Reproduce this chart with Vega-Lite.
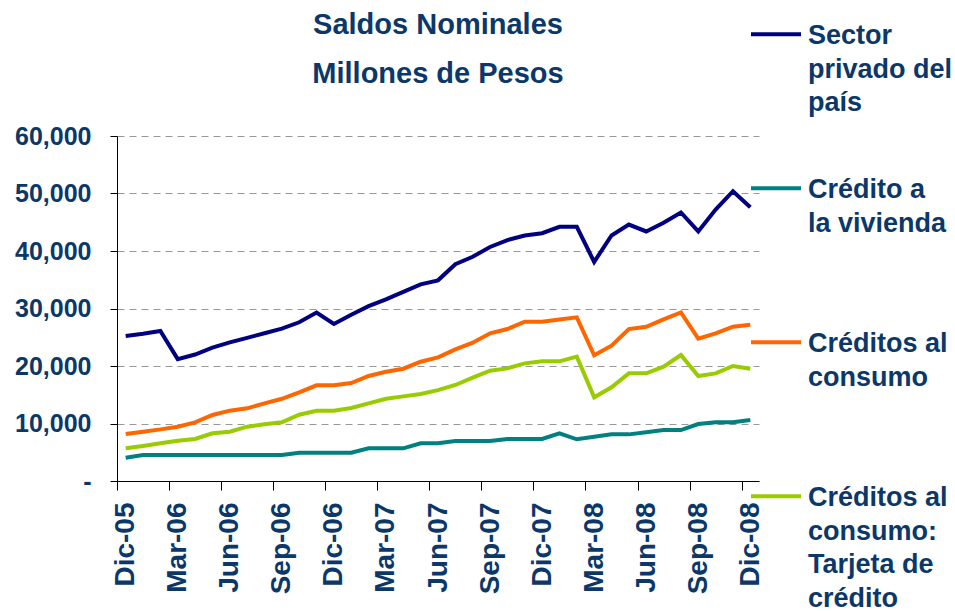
{
  "$schema": "https://vega.github.io/schema/vega-lite/v6.json",
  "width": 642,
  "height": 345,
  "autosize": "none",
  "padding": {"left": 117, "top": 136, "right": 196, "bottom": 130},
  "background": "white",
  "title": {
    "text": ["Saldos Nominales", "Millones de Pesos"],
    "font": "Liberation Sans",
    "fontSize": 29,
    "fontWeight": "bold",
    "color": "#0B3868",
    "lineHeight": 49,
    "anchor": "middle",
    "frame": "group",
    "offset": -93
  },
  "config": {
    "view": {"stroke": null},
    "font": "Liberation Sans",
    "style": {"guide-label": {"lineHeight": 33.5}}
  },
  "datasets": {
    "wide": [
      {"mes": "Dic-05", "sp": 25200, "viv": 4060, "con": 8170, "tc": 5680},
      {"mes": "Ene-06", "sp": 25600, "viv": 4520, "con": 8580, "tc": 6090},
      {"mes": "Feb-06", "sp": 26100, "viv": 4520, "con": 8980, "tc": 6550},
      {"mes": "Mar-06", "sp": 21200, "viv": 4520, "con": 9450, "tc": 7010},
      {"mes": "Abr-06", "sp": 22000, "viv": 4520, "con": 10200, "tc": 7300},
      {"mes": "May-06", "sp": 23200, "viv": 4520, "con": 11480, "tc": 8290},
      {"mes": "Jun-06", "sp": 24100, "viv": 4520, "con": 12230, "tc": 8580},
      {"mes": "Jul-06", "sp": 24900, "viv": 4520, "con": 12640, "tc": 9450},
      {"mes": "Ago-06", "sp": 25700, "viv": 4520, "con": 13500, "tc": 9860},
      {"mes": "Sep-06", "sp": 26500, "viv": 4520, "con": 14300, "tc": 10200},
      {"mes": "Oct-06", "sp": 27600, "viv": 4930, "con": 15400, "tc": 11530},
      {"mes": "Nov-06", "sp": 29300, "viv": 4930, "con": 16640, "tc": 12230},
      {"mes": "Dic-06", "sp": 27300, "viv": 4930, "con": 16640, "tc": 12230},
      {"mes": "Ene-07", "sp": 28900, "viv": 4930, "con": 17040, "tc": 12700},
      {"mes": "Feb-07", "sp": 30400, "viv": 5680, "con": 18260, "tc": 13500},
      {"mes": "Mar-07", "sp": 31600, "viv": 5680, "con": 19000, "tc": 14300},
      {"mes": "Abr-07", "sp": 32900, "viv": 5680, "con": 19530, "tc": 14720},
      {"mes": "May-07", "sp": 34200, "viv": 6550, "con": 20750, "tc": 15130},
      {"mes": "Jun-07", "sp": 34900, "viv": 6550, "con": 21500, "tc": 15800},
      {"mes": "Jul-07", "sp": 37700, "viv": 6960, "con": 22900, "tc": 16700},
      {"mes": "Ago-07", "sp": 39000, "viv": 6960, "con": 24050, "tc": 17970},
      {"mes": "Sep-07", "sp": 40700, "viv": 6960, "con": 25680, "tc": 19190},
      {"mes": "Oct-07", "sp": 41900, "viv": 7300, "con": 26430, "tc": 19590},
      {"mes": "Nov-07", "sp": 42700, "viv": 7300, "con": 27700, "tc": 20460},
      {"mes": "Dic-07", "sp": 43100, "viv": 7300, "con": 27700, "tc": 20810},
      {"mes": "Ene-08", "sp": 44200, "viv": 8290, "con": 28100, "tc": 20810},
      {"mes": "Feb-08", "sp": 44200, "viv": 7250, "con": 28470, "tc": 21620},
      {"mes": "Mar-08", "sp": 38100, "viv": 7710, "con": 21860, "tc": 14550},
      {"mes": "Abr-08", "sp": 42700, "viv": 8110, "con": 23530, "tc": 16290},
      {"mes": "May-08", "sp": 44600, "viv": 8110, "con": 26430, "tc": 18720},
      {"mes": "Jun-08", "sp": 43400, "viv": 8460, "con": 26830, "tc": 18720},
      {"mes": "Jul-08", "sp": 44900, "viv": 8860, "con": 28100, "tc": 19880},
      {"mes": "Ago-08", "sp": 46700, "viv": 8860, "con": 29330, "tc": 21910},
      {"mes": "Sep-08", "sp": 43400, "viv": 9910, "con": 24750, "tc": 18260},
      {"mes": "Oct-08", "sp": 47200, "viv": 10200, "con": 25680, "tc": 18720},
      {"mes": "Nov-08", "sp": 50400, "viv": 10200, "con": 26830, "tc": 20000},
      {"mes": "Dic-08", "sp": 47600, "viv": 10600, "con": 27180, "tc": 19530}
    ]
  },
  "data": {"name": "wide"},
  "transform": [
    {"fold": ["sp", "viv", "con", "tc"], "as": ["serie", "valor"]}
  ],
  "mark": {"type": "line", "strokeWidth": 4, "strokeJoin": "miter", "strokeCap": "butt"},
  "encoding": {
    "x": {
      "field": "mes",
      "type": "ordinal",
      "sort": null,
      "scale": {"type": "point", "padding": 0.5},
      "axis": {
        "title": null,
        "values": ["Dic-05", "Mar-06", "Jun-06", "Sep-06", "Dic-06", "Mar-07", "Jun-07", "Sep-07", "Dic-07", "Mar-08", "Jun-08", "Sep-08", "Dic-08"],
        "tickOffset": -8.68,
        "labelOffset": 8.68,
        "labelAngle": -90,
        "labelFont": "Liberation Sans",
        "labelFontSize": 28,
        "labelFontWeight": "bold",
        "labelColor": "#0B3868",
        "labelPadding": 12,
        "tickSize": 9,
        "tickColor": "#000000",
        "domainColor": "#000000",
        "domainWidth": 1,
        "grid": false
      }
    },
    "y": {
      "field": "valor",
      "type": "quantitative",
      "scale": {"domain": [0, 60000], "nice": false},
      "axis": {
        "title": null,
        "values": [0, 10000, 20000, 30000, 40000, 50000, 60000],
        "labelExpr": "datum.value == 0 ? '-\u00a0\u00a0\u00a0\u00a0' : format(datum.value, ',')",
        "labelFont": "Liberation Sans",
        "labelFontSize": 25,
        "labelFontWeight": "bold",
        "labelColor": "#0B3868",
        "labelPadding": 19,
        "tickSize": 7,
        "tickColor": "#000000",
        "domainColor": "#000000",
        "grid": true,
        "gridColor": "#999999",
        "gridDash": [7, 5],
        "gridWidth": 1
      }
    },
    "color": {
      "field": "serie",
      "type": "nominal",
      "scale": {
        "domain": ["sp", "viv", "con", "tc"],
        "range": ["#000080", "#008080", "#FF6600", "#99CC00"]
      },
      "legend": {
        "title": null,
        "orient": "none",
        "legendX": 632,
        "legendY": -140,
        "direction": "vertical",
        "columns": 1,
        "gridAlign": "all",
        "rowPadding": 0,
        "labelExpr": "datum.label == 'sp' ? ['Sector', 'privado del', 'país'] : datum.label == 'viv' ? ['Crédito a', 'la vivienda'] : datum.label == 'con' ? ['Créditos al', 'consumo'] : ['Créditos al', 'consumo:', 'Tarjeta de', 'crédito']",
        "labelFont": "Liberation Sans",
        "labelFontSize": 27,
        "labelFontWeight": "bold",
        "labelColor": "#0B3868",
        "labelBaseline": "top",
        "labelOffset": 5,
        "labelLimit": 300,
        "symbolType": "M-1,0.45L1,0.45",
        "symbolSize": 2500,
        "symbolStrokeWidth": 4
      }
    }
  }
}
